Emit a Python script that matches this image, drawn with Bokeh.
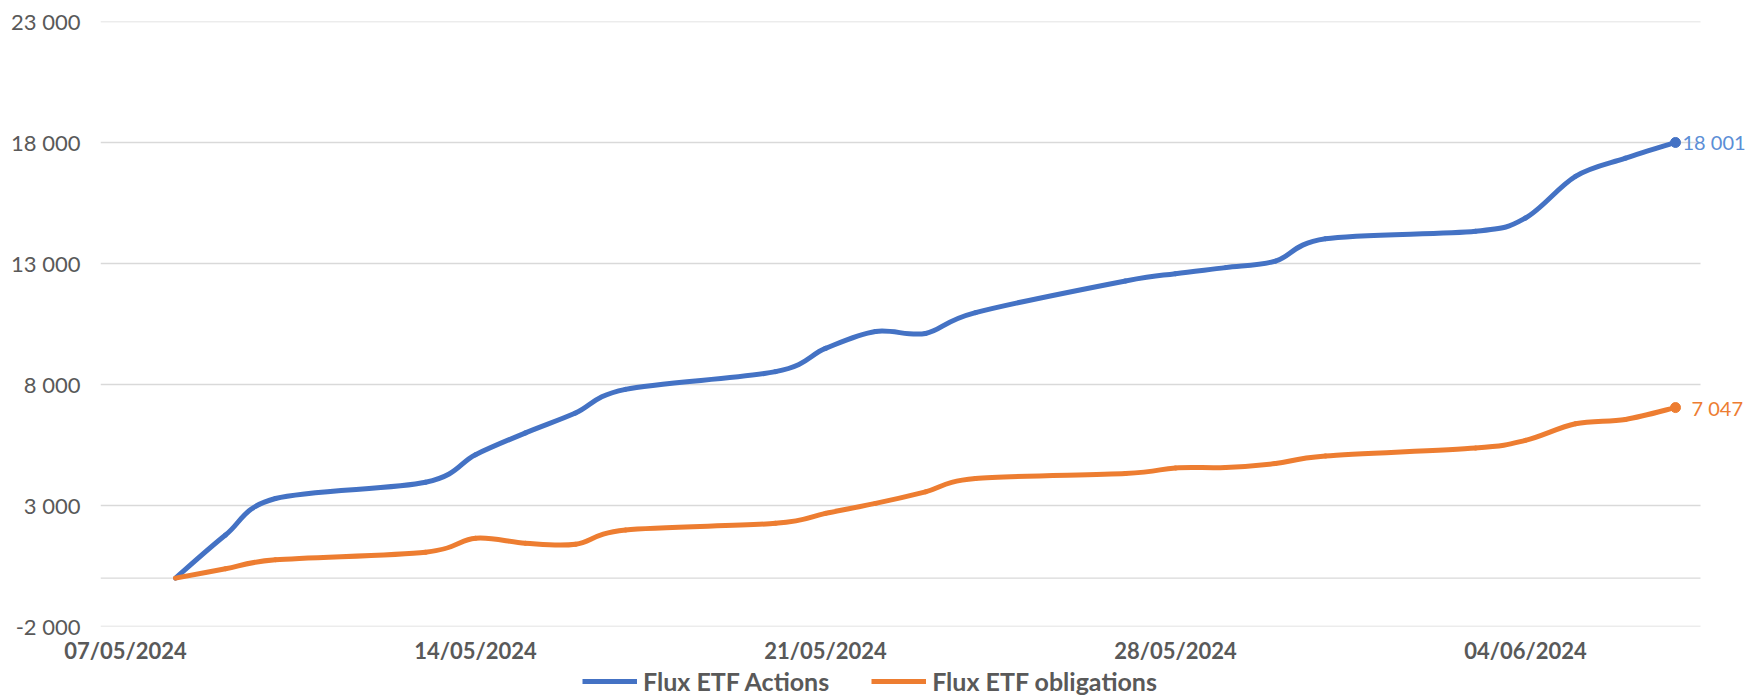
import math
import pandas as pd
from bokeh.plotting import figure
from bokeh.layouts import column
from bokeh.models import (FixedTicker, DatetimeTickFormatter, Legend, LegendItem, Label, Range1d)
from bokeh.embed import file_html
from bokeh.resources import INLINE

# ---------------- data ----------------
dates = ["08/05/2024", "09/05/2024", "10/05/2024", "13/05/2024", "14/05/2024",
         "15/05/2024", "16/05/2024", "17/05/2024", "20/05/2024", "21/05/2024",
         "22/05/2024", "23/05/2024", "24/05/2024", "27/05/2024", "28/05/2024",
         "29/05/2024", "30/05/2024", "31/05/2024", "03/06/2024", "04/06/2024",
         "05/06/2024", "06/06/2024", "07/06/2024"]
actions = [0, 1780, 3290, 3960, 5100, 6000, 6820, 7800, 8530, 9490, 10190, 10110,
           10970, 12280, 12580, 12830, 13100, 14020, 14330, 14880, 16600, 17350, 18001]
obligations = [0, 384, 754, 1070, 1646, 1440, 1400, 1990, 2263, 2675, 3086, 3566,
               4115, 4321, 4554, 4570, 4733, 5048, 5377, 5693, 6379, 6557, 7047]
series_names = ["Flux ETF Actions", "Flux ETF obligations"]
series_colors = ["#4472C4", "#ED7D31"]
label_colors = ["#5B8ED6", "#ED7D31"]
x_tick_dates = ["07/05/2024", "14/05/2024", "21/05/2024", "28/05/2024", "04/06/2024"]
y_ticks = [-2000, 3000, 8000, 13000, 18000, 23000]
y_tick_labels = ["-2 000", "3 000", "8 000", "13 000", "18 000", "23 000"]
zero_line = [0]
x_first, x_last = "07/05/2024", "07/06/2024"

# ---------------- helpers ----------------
def to_ms(s):
    return pd.to_datetime(s, format="%d/%m/%Y").value / 1e6

xs = [to_ms(d) for d in dates]
DAY = 24 * 3600 * 1000
W = 1756
H_CHART, H_LEG = 666, 34
LEFT, TOP, BOTTOM = 100, 21, 37
px_per_day = 50.0
x_start = to_ms(x_first) - 0.5 * DAY
x_grid_end = to_ms(x_last) + 0.5 * DAY
x_end = x_start + (W - LEFT) / px_per_day * DAY   # frame runs to the right edge

FONT = "Lato"
GREY = "#595959"
GRID = "#D9D9D9"

p = figure(width=W, height=H_CHART, output_backend="svg", toolbar_location=None,
           x_axis_type="datetime", x_range=(x_start, x_end), y_range=(-2000, 23000),
           min_border_left=LEFT, min_border_right=0, min_border_top=TOP,
           min_border_bottom=BOTTOM)
p.outline_line_color = None
p.background_fill_color = "white"
p.border_fill_color = "white"

# axes
p.xaxis.ticker = FixedTicker(ticks=[to_ms(d) for d in x_tick_dates])
p.xaxis.formatter = DatetimeTickFormatter(days="%d/%m/%Y", months="%d/%m/%Y", years="%d/%m/%Y",
                                          hours="%d/%m/%Y", hourmin="%d/%m/%Y")
p.xaxis.axis_line_color = None
p.xaxis.major_tick_line_color = None
p.xaxis.minor_tick_line_color = None
p.xaxis.major_tick_out = 0
p.xaxis.major_tick_in = 0
p.xaxis.major_label_standoff = 10
p.xaxis.major_label_text_font = FONT
p.xaxis.major_label_text_font_style = "bold"
p.xaxis.major_label_text_font_size = "22px"
p.xaxis.major_label_text_color = GREY

p.yaxis.ticker = FixedTicker(ticks=y_ticks)
p.yaxis.major_label_overrides = {t: l for t, l in zip(y_ticks, y_tick_labels)}
p.yaxis.axis_line_color = None
p.yaxis.major_tick_line_color = None
p.yaxis.minor_tick_line_color = None
p.yaxis.major_tick_out = 0
p.yaxis.major_tick_in = 0
p.yaxis.major_label_standoff = 20
p.yaxis.major_label_text_font = FONT
p.yaxis.major_label_text_font_size = "22px"
p.yaxis.major_label_text_color = GREY

p.xgrid.grid_line_color = None
p.ygrid.grid_line_color = None

# horizontal gridlines (limited to the plot area of the original) and the zero axis line
gy = y_ticks + zero_line
p.segment(x0=[x_start] * len(gy), x1=[x_grid_end] * len(gy), y0=gy, y1=gy,
          line_color=GRID, line_width=1.4)

# legend figure (frame aligned with the chart's frame)
pl = figure(width=W, height=H_LEG, output_backend="svg", toolbar_location=None,
            x_range=Range1d(0, 1), y_range=Range1d(0, 1),
            x_axis_location=None, y_axis_location=None,
            min_border_left=LEFT, min_border_right=0, min_border_top=0, min_border_bottom=0)
pl.outline_line_color = None
pl.xgrid.grid_line_color = None
pl.ygrid.grid_line_color = None
pl.background_fill_color = "white"
pl.border_fill_color = "white"

# smoothed lines (bezier segments through the data points)
legend_items = []
for vals, name, col, lcol in zip([actions, obligations], series_names, series_colors, label_colors):
    n = len(vals)
    x0, y0, x1, y1, cx0, cy0, cx1, cy1 = [], [], [], [], [], [], [], []
    for i in range(n - 1):
        a = i - 1 if i > 0 else i
        b = i + 2 if i + 2 < n else i + 1
        x0.append(xs[i]); y0.append(vals[i])
        x1.append(xs[i + 1]); y1.append(vals[i + 1])
        cx0.append(xs[i] + (xs[i + 1] - xs[a]) / 6.0)
        cy0.append(vals[i] + (vals[i + 1] - vals[a]) / 6.0)
        cx1.append(xs[i + 1] - (xs[b] - xs[i]) / 6.0)
        cy1.append(vals[i + 1] - (vals[b] - vals[i]) / 6.0)
    p.bezier(x0=x0, y0=y0, x1=x1, y1=y1, cx0=cx0, cy0=cy0, cx1=cx1, cy1=cy1,
             line_color=col, line_width=5, line_cap="round")
    # invisible proxy (NaN point) that only provides the legend swatch
    proxy = pl.line(x=[math.nan], y=[math.nan], line_color=col, line_width=5)
    legend_items.append(LegendItem(label=name, renderers=[proxy]))
    # end marker and data label
    p.scatter(x=[xs[-1]], y=[vals[-1]], size=10, color=col)
    lab = f"{vals[-1]:,}".replace(",", " ")
    p.add_layout(Label(x=xs[-1], y=vals[-1], text=lab,
                       x_offset=7 if vals[-1] >= 10000 else 16,
                       text_align="left", text_baseline="middle", text_font=FONT,
                       text_font_size="20px", text_color=lcol))

LEG_ITEM_H = 26
legend = Legend(items=legend_items, orientation="horizontal",
                location=(482, (H_LEG - LEG_ITEM_H) // 2),
                glyph_width=55, glyph_height=LEG_ITEM_H, label_standoff=6, spacing=42,
                padding=0, margin=0, border_line_color=None, background_fill_alpha=0,
                label_text_font=FONT, label_text_font_style="bold",
                label_text_font_size="25px", label_text_color=GREY,
                label_height=LEG_ITEM_H)
pl.add_layout(legend)

open("out.html", "w").write(file_html(column(p, pl, spacing=0), INLINE))
